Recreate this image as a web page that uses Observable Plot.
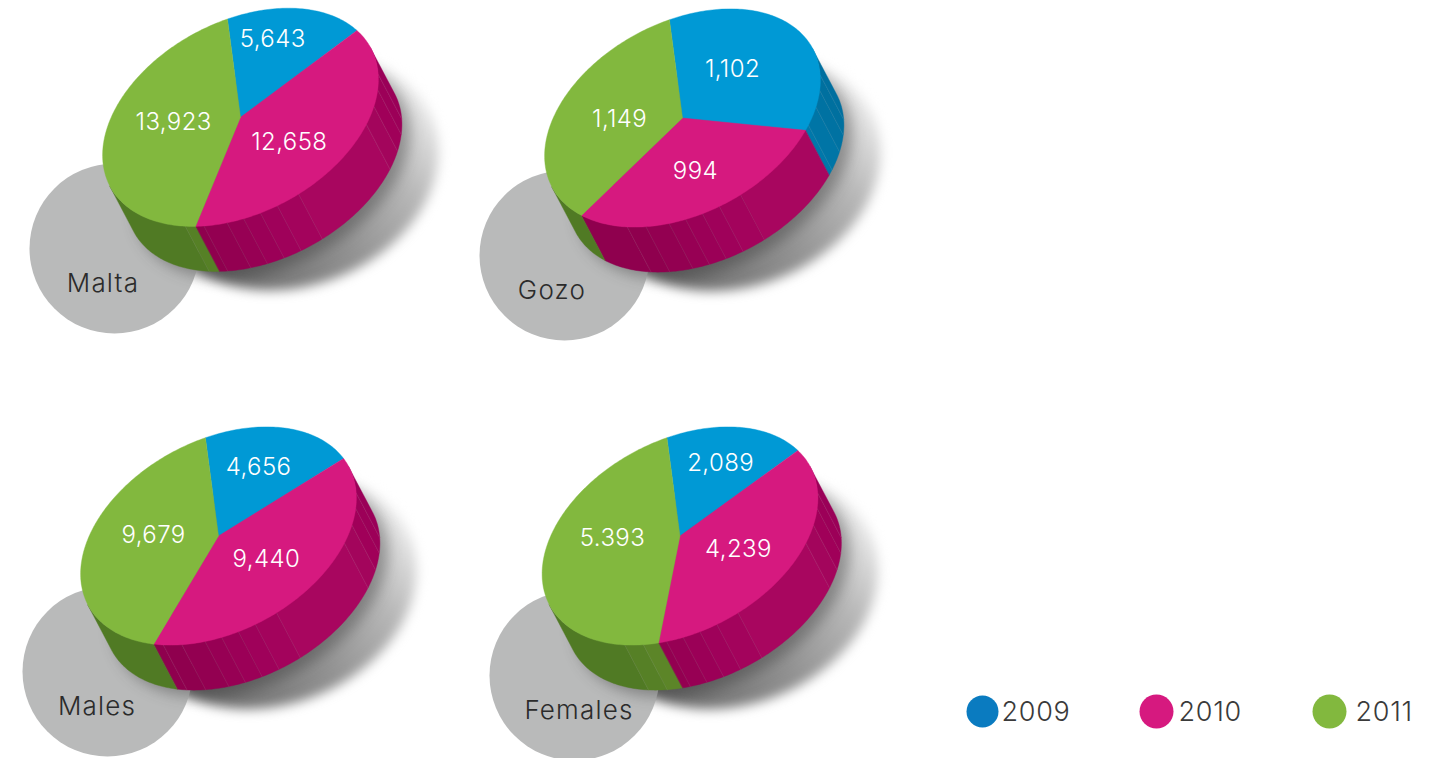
<!DOCTYPE html>
<html>
<head>
<meta charset="utf-8">
<script src="https://cdn.jsdelivr.net/npm/d3@7"></script>
<script src="https://cdn.jsdelivr.net/npm/@observablehq/plot@0.6"></script>
<style>
html,body{margin:0;padding:0;background:#fff}
svg{display:block}
</style>
</head>
<body>
<div id="chart"></div>
<script>
// ---- data ----
const years = ["2009", "2010", "2011"];
const pieNames = ["Malta", "Gozo", "Males", "Females"];
const maltaValues = [5643, 12658, 13923];
const gozoValues = [1102, 994, 1149];
const malesValues = [4656, 9440, 9679];
const femalesValues = [2089, 4239, 5393];
const maltaLabels = ["5,643", "12,658", "13,923"];
const gozoLabels = ["1,102", "994", "1,149"];
const malesLabels = ["4,656", "9,440", "9,679"];
const femalesLabels = ["2,089", "4,239", "5.393"];

// ---- colours ----
const topColors = ["#0099d5", "#d6197f", "#82b83e"];
const legendColors = ["#0a7bc0", "#d6197f", "#82b83e"];
const wallColors = [
  ["#006f9f","#00709f","#0072a2","#0075a6","#0078aa","#0078aa","#0078aa","#0078aa","#0078aa","#0078aa","#0078aa","#0078aa"],
  ["#9a0058","#9c0058","#a00059","#a3055c","#a8065f","#a3035c","#9f015a","#9b0057","#970054","#930051","#8f004e","#8f004e"],
  ["#5c8a2a","#5c8a2a","#5c8a2a","#5c8a2a","#5c8a2a","#5c8a2a","#5c8a2a","#5c8a2a","#5c8a2a","#5c8528","#568026","#507a24"]
];
const greyDisc = "#b9baba";

// ---- layout of the four tilted discs ----
const centers = [[240,116.8],[682,117.5],[218,535.5],[679.5,535.5]];
const discs = [[114,248],[564,255],[107,671],[574,675]];
const tagPositions = [[102.5,282],[551.5,289],[96.5,705],[578.5,709]];
const labelPolar = [
  [[-52.3,.726],[65.1,.511],[215.5,.506]],
  [[-25.3,.506],[99.3,.558],[219.2,.486]],
  [[-44.2,.644],[64.3,.494],[221.2,.509]],
  [[-45.3,.678],[52.6,.509],[218,.518]]
];
const legendDots = [[982,711,16],[1156,711,17],[1329,711,17]];
const legendTexts = [[1001,712],[1178,712],[1355,712]];
const face = {a:147.6, b:95.6, tilt:-27.9};
const shadowShape = {a:147, b:113, tilt:-21};
const depth = [24,45.5];
const startAngle = -76.5;
const facetAngles = [0,16,24.6,33.5,43,84,93.4,100.6,107.6,114.5,124.3,132.5,180];
const shadowShift = [55,55];
const contactShift = [32,52];

const ellipsePoint = (shape, c, deg, r = 1) => {
  const phi = shape.tilt*Math.PI/180, t = deg*Math.PI/180;
  const a = shape.a*r*Math.cos(t), b = shape.b*r*Math.sin(t);
  return [c[0]+a*Math.cos(phi)-b*Math.sin(phi), c[1]+a*Math.sin(phi)+b*Math.cos(phi)];
};
const rim = (c, deg, r = 1) => ellipsePoint(face, c, deg, r);
const range = (a,b,step=1) => { const o = d3.range(a,b,step); o.push(b); return o; };

const allValues = [maltaValues, gozoValues, malesValues, femalesValues];
const allLabels = [maltaLabels, gozoLabels, malesLabels, femalesLabels];

const tops = [], walls = [], seams = [], texts = [], shadows = [], contacts = [];
allValues.forEach((vals, p) => {
  const c = centers[p];
  const total = d3.sum(vals);
  let a0 = startAngle;
  range(0,360,2).forEach(t => {
    const q = rim(c, t);
    const sp = ellipsePoint(shadowShape, [c[0]+shadowShift[0], c[1]+shadowShift[1]], t);
    shadows.push({id:p, x:sp[0], y:sp[1]});
    contacts.push({id:p, x:q[0]+contactShift[0], y:q[1]+contactShift[1]});
  });
  vals.forEach((v, s) => {
    const a1 = a0 + v/total*360;
    const id = p+"-"+s;
    tops.push({id, x:c[0], y:c[1], color:topColors[s]});
    range(a0,a1).forEach(t => { const q = rim(c,t); tops.push({id, x:q[0], y:q[1], color:topColors[s]}); });
    tops.push({id, x:c[0], y:c[1], color:topColors[s]});
    for (let f = 0; f < facetAngles.length-1; f++) {
      const lo = Math.max(a0, facetAngles[f]), hi = Math.min(a1, facetAngles[f+1]);
      if (hi <= lo) continue;
      range(lo,hi).forEach(t => {
        const q = rim(c,t);
        walls.push({id:id+"-"+f, x1:q[0], y1:q[1], x2:q[0]+depth[0], y2:q[1]+depth[1], color:wallColors[s][f]});
      });
    }
    const [lt, lr] = labelPolar[p][s];
    const lp = rim(c, lt, lr);
    texts.push({x:lp[0], y:lp[1], text:allLabels[p][s]});
    a0 = a1;
  });
  facetAngles.slice(1,-1).forEach(t => {
    const q = rim(c,t);
    seams.push({x1:q[0], y1:q[1], x2:q[0]+depth[0], y2:q[1]+depth[1]});
  });
});

const discRows = discs.map((d,i) => ({x:d[0], y:d[1], name:pieNames[i], tx:tagPositions[i][0], ty:tagPositions[i][1]}));
const legendRows = years.map((y,i) => ({year:y, color:legendColors[i], x:legendDots[i][0], y:legendDots[i][1], r:legendDots[i][2], tx:legendTexts[i][0], ty:legendTexts[i][1]}));

const blur = px => (index, scales, values, dims, context, next) => {
  const g = next(index, scales, values, dims, context);
  g.style.filter = `blur(${px}px)`;
  return g;
};
const spaced = px => (index, scales, values, dims, context, next) => {
  const g = next(index, scales, values, dims, context);
  g.style.letterSpacing = `${px}px`;
  return g;
};
const shadowDefs = () => {
  const defs = d3.create("svg:defs");
  const g = defs.append("linearGradient").attr("id","shadowGrad")
    .attr("x1","0.15").attr("y1","0.9").attr("x2","0.95").attr("y2","0.15");
  g.append("stop").attr("offset","0").attr("stop-color","#6a6a6a");
  g.append("stop").attr("offset","0.4").attr("stop-color","#929292");
  g.append("stop").attr("offset","0.7").attr("stop-color","#b8b8b8");
  g.append("stop").attr("offset","1").attr("stop-color","#f0f0f0");
  return defs.node();
};

const FONT = "Inter, 'Open Sans', sans-serif";
const chart = Plot.plot({
  width: 1442, height: 758,
  margin: 0,
  x: {domain:[0,1442], range:[0,1442], axis:null},
  y: {domain:[0,758], range:[0,758], axis:null},
  color: {type:"identity"},
  r: {type:"identity"},
  style: {background:"#fff", fontFamily:FONT},
  marks: [
    shadowDefs,
    Plot.line(shadows, {x:"x", y:"y", z:"id", fill:"url(#shadowGrad)", stroke:"none", render:blur(6)}),
    Plot.dot(discRows, {x:"x", y:"y", r:85, fill:greyDisc, stroke:"none"}),
    Plot.line(contacts, {x:"x", y:"y", z:"id", fill:"#222", fillOpacity:.35, stroke:"none", render:blur(7)}),
    Plot.area(walls, {x1:"x1", y1:"y1", x2:"x2", y2:"y2", z:"id", fill:"color", stroke:"color", strokeWidth:.4, curve:"linear"}),
    Plot.link(seams, {x1:"x1", y1:"y1", x2:"x2", y2:"y2", stroke:"#fff", strokeOpacity:.12, strokeWidth:.6}),
    Plot.line(tops, {x:"x", y:"y", z:"id", fill:"color", stroke:"color", strokeWidth:.4}),
    Plot.text(texts, {x:"x", y:"y", dy:1, text:"text", fill:"#fff", fontSize:24, fontWeight:300, render:spaced(.4)}),
    Plot.text(discRows, {x:"tx", y:"ty", dy:1, text:"name", fill:"#2b2b2b", fontSize:26, fontWeight:300, render:spaced(1.2)}),
    Plot.dot(legendRows, {x:"x", y:"y", r:"r", fill:"color", stroke:"none"}),
    Plot.text(legendRows, {x:"tx", y:"ty", text:"year", textAnchor:"start", fill:"#3a3a3a", fontSize:27, fontWeight:300, render:spaced(.7)})
  ]
});
document.getElementById("chart").append(chart);
</script>
</body>
</html>
